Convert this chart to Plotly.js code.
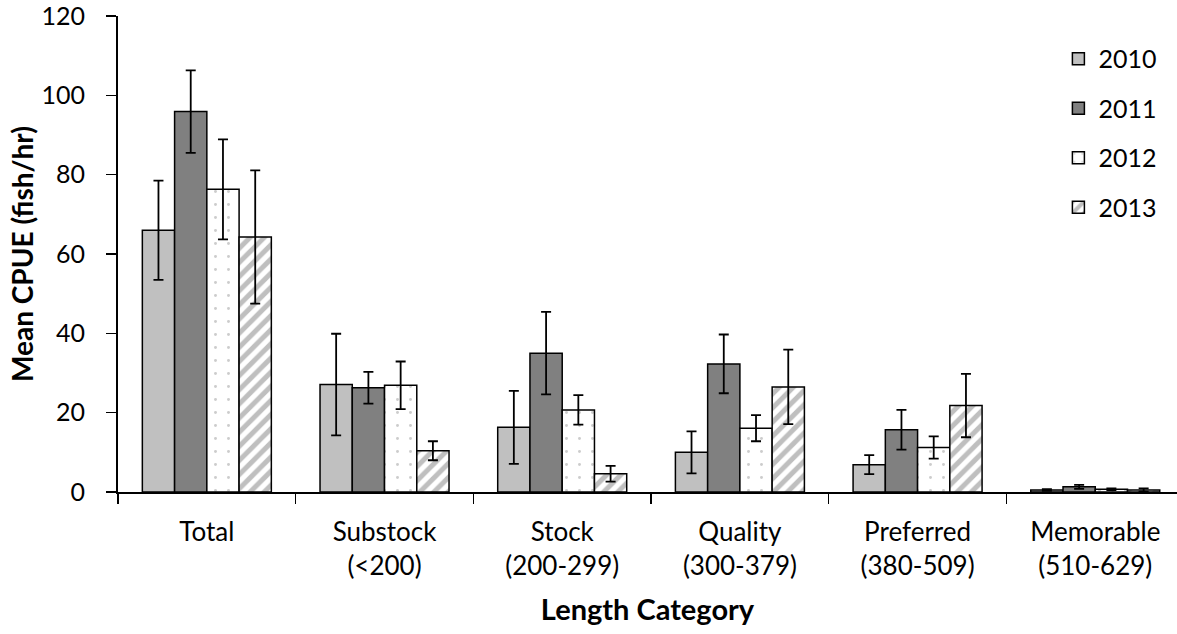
<!DOCTYPE html>
<html>
<head>
<meta charset="utf-8">
<script src="https://cdn.plot.ly/plotly-3.0.1.min.js"></script>
<style>html,body{margin:0;padding:0;background:#fff;}#chart{width:1177px;height:634px;}</style>
</head>
<body>
<div id="chart"></div>
<script>
const categories = ["Total", "Substock<br>(<200)", "Stock<br>(200-299)", "Quality<br>(300-379)", "Preferred<br>(380-509)", "Memorable<br>(510-629)"];
const years = ["2010", "2011", "2012", "2013"];
const cpue2010 = [66.0, 27.1, 16.3, 10.0, 6.9, 0.5];
const cpue2011 = [95.9, 26.3, 35.0, 32.3, 15.7, 1.3];
const cpue2012 = [76.3, 26.9, 20.7, 16.1, 11.2, 0.7];
const cpue2013 = [64.3, 10.4, 4.6, 26.5, 21.8, 0.5];
const err2010 = [12.5, 12.8, 9.2, 5.3, 2.4, 0.2];
const err2011 = [10.4, 4.0, 10.4, 7.4, 5.0, 0.5];
const err2012 = [12.6, 6.0, 3.7, 3.3, 2.8, 0.2];
const err2013 = [16.8, 2.4, 2.0, 9.4, 8.0, 0.4];

const values = [cpue2010, cpue2011, cpue2012, cpue2013];
const errors = [err2010, err2011, err2012, err2013];
const markers = [
  {color: "#c0c0c0", line: {color: "#000", width: 1.5}},
  {color: "#808080", line: {color: "#000", width: 1.5}},
  {color: "#ffffff", line: {color: "#000", width: 1.5},
   pattern: {shape: ".", fgcolor: "#999999", bgcolor: "#ffffff", size: 13, solidity: 0.04, fillmode: "overlay"}},
  {color: "#ffffff", line: {color: "#000", width: 1.5},
   pattern: {shape: "/", fgcolor: "#808080", bgcolor: "#ffffff", size: 10, solidity: 0.5, fillmode: "overlay"}}
];

const traces = years.map((y, i) => ({
  type: "bar",
  name: y,
  legendgroup: y,
  x: categories,
  y: values[i],
  marker: markers[i],
  error_y: {type: "data", array: errors[i], visible: true, color: "#000", thickness: 1.8, width: 5}
}));

const font = "Lato, 'Open Sans', sans-serif";
const layout = {
  width: 1177, height: 634,
  paper_bgcolor: "#fff", plot_bgcolor: "#fff",
  margin: {l: 118, r: 0, t: 16, b: 141.5, pad: 0},
  barmode: "group",
  bargap: 0.274,
  bargroupgap: 0,
  font: {family: font, size: 24, color: "#000"},
  showlegend: true,
  legend: {x: 0.888, y: 0.958, xanchor: "left", yanchor: "top",
           font: {family: font, size: 25, color: "#000"},
           bgcolor: "rgba(0,0,0,0)", tracegroupgap: 14, itemwidth: 30},
  xaxis: {
    type: "category",
    range: [-0.5, 5.46],
    showline: true, linecolor: "#000", linewidth: 2,
    ticks: "outside", tickson: "boundaries", ticklen: 10, tickcolor: "#000", tickwidth: 1.5,
    ticklabelstandoff: 16,
    tickfont: {family: font, size: 26, color: "#000"},
    showgrid: false, zeroline: false,
    title: {text: "<b>Length Category</b>", font: {family: font, size: 29, color: "#000"}, standoff: 20}
  },
  yaxis: {
    range: [0, 120],
    tickvals: [0, 20, 40, 60, 80, 100, 120],
    ticklabeloverflow: "allow",
    showline: true, linecolor: "#000", linewidth: 2,
    ticks: "outside", ticklen: 10, tickcolor: "#000", tickwidth: 1.5,
    ticklabelstandoff: 16,
    tickfont: {family: font, size: 25, color: "#000"},
    showgrid: false, zeroline: false,
    title: {text: "<b>Mean CPUE (fish/hr)</b>", font: {family: font, size: 28, color: "#000"}, standoff: 0}
  }
};

Plotly.newPlot("chart", traces, layout, {displayModeBar: false, staticPlot: true});
</script>
</body>
</html>
